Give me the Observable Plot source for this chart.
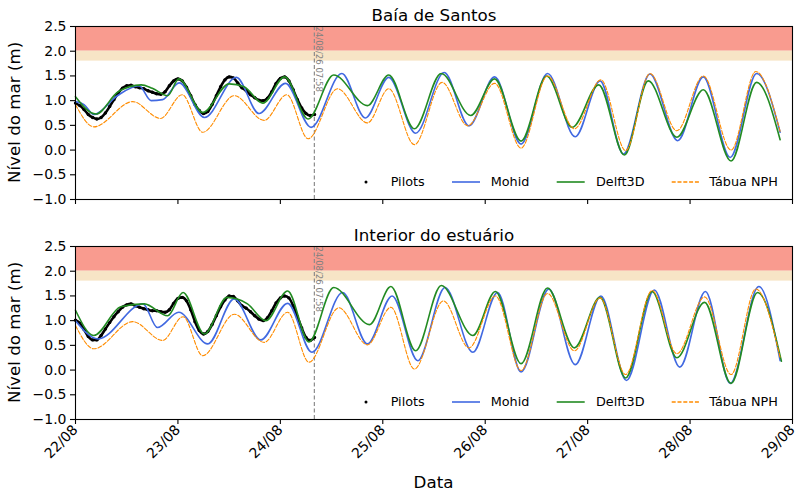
<!DOCTYPE html>
<html><head><meta charset="utf-8">
<script src="https://cdn.jsdelivr.net/npm/d3@7"></script>
<script src="https://cdn.jsdelivr.net/npm/@observablehq/plot@0.6"></script>
<style>
body{margin:0;background:#fff;font-family:"DejaVu Sans",sans-serif;}
#wrap{position:relative;width:800px;height:498px;overflow:hidden;background:#fff}
#wrap > svg{position:absolute;left:0}
</style></head><body><div id="wrap"></div>
<script>
// ---- data (hours since 22/08/2026 00:00, sea level in m) ----
const dayLabels = ["22/08","23/08","24/08","25/08","26/08","27/08","28/08","29/08"];
const dayNumbers = [22,23,24,25,26,27,28,29];
const yTicks = [-1.0,-0.5,0.0,0.5,1.0,1.5,2.0,2.5];
const redBand = [2.0, 2.5];
const beigeBand = [1.8, 2.0];
const cutoffHour = 55.967;
const cutoffLabel = "24/08/26 07:58";
const seriesNames = ["Pilots","Mohid","Delft3D","Tábua NPH"];

// Baía de Santos
const santosPilots = [0.95,0.90,0.82,0.72,0.66,0.63,0.66,0.75,0.88,1.02,1.15,1.25,1.30,1.31,1.28,1.26,1.24,1.20,1.17,1.14,1.13,1.18,1.30,1.40,1.44,1.40,1.27,1.10,0.92,0.80,0.74,0.78,0.92,1.10,1.28,1.42,1.48,1.46,1.36,1.26,1.20,1.12,1.06,1.01,1.00,1.05,1.18,1.35,1.45,1.48,1.40,1.22,1.02,0.85,0.74,0.70,0.72];
const santosMohid = [[0,0.98],[2,0.92],[4.3,0.72],[9.8,1.10],[14.9,1.30],[17.7,1.00],[20.4,1.02],[24.3,1.36],[30.2,0.66],[37.7,1.47],[43.0,0.74],[49.2,1.35],[55.2,0.46],[62.4,1.55],[67.9,0.65],[73.4,1.47],[79.7,0.34],[86.4,1.57],[92.2,0.49],[98.2,1.48],[104.4,0.12],[110.6,1.55],[117.1,0.27],[122.9,1.40],[128.4,-0.08],[134.6,1.54],[141.1,0.19],[147.1,1.48],[153.4,-0.15],[159.6,1.55],[165.1,0.36]];
const santosDelft = [[0,1.08],[4.8,0.73],[10,1.18],[15.4,1.32],[18,1.25],[21.6,1.10],[24.2,1.44],[29.8,0.76],[36.0,1.34],[39.5,1.28],[43.9,0.95],[49.0,1.48],[54.5,0.63],[60.5,1.52],[68.4,0.90],[73.4,1.52],[79.4,0.43],[85.7,1.55],[92.6,0.70],[98.2,1.44],[104.4,0.18],[110.4,1.50],[116.4,0.46],[122.6,1.32],[128.6,-0.10],[134.2,1.40],[140.9,0.26],[147.1,1.22],[153.6,-0.22],[159.6,1.37],[165.1,0.21]];
const santosNPH = [[0,0.92],[4.3,0.47],[13.4,0.98],[19.9,0.64],[25.0,1.12],[29.8,0.36],[37.2,1.10],[44.2,0.60],[49.5,1.12],[54.5,0.23],[61.4,1.24],[68.4,0.55],[73.4,1.24],[79.4,0.11],[85.9,1.37],[91.9,0.49],[98.2,1.35],[104.4,0.04],[110.6,1.50],[116.9,0.43],[123.1,1.42],[128.9,-0.01],[134.6,1.55],[140.9,0.39],[147.1,1.50],[153.6,0.00],[159.4,1.59],[165.1,0.38]];

// Interior do estuário
const estuarioPilots = [1.01,0.95,0.82,0.68,0.61,0.61,0.70,0.83,0.96,1.08,1.18,1.27,1.32,1.34,1.30,1.27,1.24,1.22,1.20,1.20,1.18,1.17,1.22,1.35,1.45,1.47,1.40,1.22,0.98,0.80,0.73,0.78,0.92,1.10,1.28,1.42,1.50,1.49,1.40,1.30,1.25,1.18,1.10,1.03,1.00,1.06,1.20,1.36,1.46,1.50,1.46,1.30,1.08,0.85,0.66,0.60,0.66];
const estuarioMohid = [[0,1.00],[5.3,0.63],[15.8,1.34],[19.2,0.86],[24.2,1.17],[31.0,0.53],[37.2,1.44],[43.4,0.61],[49.7,1.35],[55.4,0.36],[62.6,1.57],[68.4,0.53],[74.2,1.50],[80.2,0.19],[86.6,1.67],[93.1,0.36],[98.9,1.57],[104.4,-0.04],[110.9,1.64],[117.1,0.11],[123.1,1.50],[129.1,-0.21],[135.6,1.62],[141.6,0.06],[147.6,1.59],[153.4,-0.27],[160.1,1.69],[165.1,0.19]];
const estuarioDelft = [[0,1.21],[4.3,0.70],[10.6,1.28],[16.1,1.34],[21.6,1.10],[25.2,1.57],[30.2,0.73],[35.5,1.47],[40.3,1.34],[44.6,1.00],[49.7,1.60],[54.7,0.57],[60.5,1.67],[68.9,0.92],[73.9,1.69],[79.7,0.39],[85.7,1.71],[93.1,0.70],[98.4,1.59],[104.4,0.13],[110.6,1.66],[116.9,0.45],[122.9,1.47],[128.9,-0.16],[135.1,1.59],[140.9,0.25],[147.4,1.37],[153.6,-0.27],[159.8,1.57],[165.4,0.18]];
const estuarioNPH = [[0,0.90],[4.3,0.43],[13.4,0.98],[20.4,0.60],[25.2,1.08],[29.8,0.29],[37.2,1.13],[44.2,0.56],[49.7,1.17],[54.7,0.16],[61.7,1.26],[68.4,0.51],[73.9,1.27],[79.4,0.02],[86.2,1.40],[92.2,0.45],[98.4,1.50],[104.4,-0.01],[110.6,1.55],[116.9,0.39],[122.9,1.46],[128.9,-0.09],[135.1,1.61],[140.9,0.33],[147.4,1.48],[153.6,-0.09],[159.4,1.64],[165.1,0.25]];

// ---- helpers ----
const t0 = Date.UTC(2026, 7, 22);
const t = h => new Date(t0 + h * 3600e3);
const tickDates = dayNumbers.map(d => new Date(Date.UTC(2026, 7, d)));
const labelByTime = new Map(tickDates.map((d, i) => [+d, dayLabels[i]]));
const colors = {pilots: "#000000", mohid: "#4169E1", delft: "#228B22", nph: "#FF8C00"};
const fmtY = d3.format(".1f");

function panel({title, pilots, mohid, delft, nph, top, height, marginTop, marginBottom, showLabels}) {
  const svg = Plot.plot({
    width: 800, height, marginTop, marginBottom, marginLeft: 75, marginRight: 8,
    style: {fontFamily: "DejaVu Sans", fontSize: "14px", background: "transparent", overflow: "visible", color: "black"},
    x: {type: "utc", domain: [t(0), t(168)]},
    y: {domain: [-1, 2.5]},
    marks: [
      Plot.rect([redBand], {y1: d => d[0], y2: d => d[1], fill: "#F99B8F"}),
      Plot.rect([beigeBand], {y1: d => d[0], y2: d => d[1], fill: "#F7E4C6"}),
      Plot.ruleX([cutoffHour], {x: d => t(d), stroke: "#8c8c8c", strokeDasharray: "4,2.5", strokeWidth: 1.2}),
      Plot.text([cutoffLabel], {x: () => t(cutoffHour), frameAnchor: "top", text: d => d, rotate: 90, textAnchor: "start", lineAnchor: "bottom", dx: 2, fontSize: 8.5, fill: "#808080"}),
      Plot.line(pilots, {x: (d, i) => t(i), y: d => d, stroke: colors.pilots, strokeWidth: 2.6, curve: "monotone-x"}),
      Plot.dot(pilots, {x: (d, i) => t(i), y: d => d, r: 1.7, fill: colors.pilots}),
      Plot.line(mohid, {x: d => t(d[0]), y: d => d[1], stroke: colors.mohid, strokeWidth: 1.6, curve: "monotone-x"}),
      Plot.line(delft, {x: d => t(d[0]), y: d => d[1], stroke: colors.delft, strokeWidth: 1.6, curve: "monotone-x"}),
      Plot.line(nph, {x: d => t(d[0]), y: d => d[1], stroke: colors.nph, strokeWidth: 1.1, strokeDasharray: "4,1.8", curve: "monotone-x"}),
      Plot.frame({stroke: "black", strokeWidth: 1.1}),
      Plot.axisY(yTicks, {tickSize: 5, tickPadding: 4, tickFormat: fmtY, fontSize: 14, label: null, strokeWidth: 1.1}),
      Plot.axisX(tickDates, {tickSize: 5, tickPadding: 3, tickRotate: -45, fontSize: 14, label: null, strokeWidth: 1.1,
        tickFormat: d => showLabels ? labelByTime.get(+d) : ""}),
      Plot.text([title], {frameAnchor: "top", text: d => d, dy: -6, lineAnchor: "bottom", fontSize: 16.7})
    ]
  });
  svg.style.top = top + "px";
  return svg;
}

const wrap = document.getElementById("wrap");
wrap.appendChild(panel({title: "Baía de Santos", pilots: santosPilots, mohid: santosMohid, delft: santosDelft, nph: santosNPH,
  top: 0, height: 215, marginTop: 26, marginBottom: 16, showLabels: false}));
wrap.appendChild(panel({title: "Interior do estuário", pilots: estuarioPilots, mohid: estuarioMohid, delft: estuarioDelft, nph: estuarioNPH,
  top: 215, height: 283, marginTop: 31, marginBottom: 79, showLabels: true}));

// ---- overlay: axis titles and legends ----
const ov = d3.select(wrap).append("svg").attr("width", 800).attr("height", 498)
  .style("top", "0px").style("pointer-events", "none")
  .style("font-family", "DejaVu Sans");
[112.4, 332.4].forEach(cy => {
  ov.append("text").attr("transform", `translate(20,${cy}) rotate(-90)`)
    .attr("text-anchor", "middle").attr("font-size", 16.7).text("Nível do mar (m)");
});
ov.append("text").attr("x", 433.5).attr("y", 488).attr("text-anchor", "middle").attr("font-size", 16.7).text("Data");

const legendX = [{sw: 366, tx: 390.7}, {sw: 452, tx: 490.7}, {sw: 556.7, tx: 596}, {sw: 671.7, tx: 709.3}];
const legendStyle = [
  {type: "dot", color: colors.pilots},
  {type: "line", color: colors.mohid, w: 1.6, dash: null},
  {type: "line", color: colors.delft, w: 1.6, dash: null},
  {type: "line", color: colors.nph, w: 1.3, dash: "4,1.8"}
];
[182, 402].forEach(ly => {
  seriesNames.forEach((name, i) => {
    const p = legendX[i], s = legendStyle[i];
    if (s.type === "dot") {
      ov.append("circle").attr("cx", p.sw).attr("cy", ly).attr("r", 1.5).attr("fill", s.color);
    } else {
      const l = ov.append("line").attr("x1", p.sw).attr("x2", p.sw + 28).attr("y1", ly).attr("y2", ly)
        .attr("stroke", s.color).attr("stroke-width", s.w);
      if (s.dash) l.attr("stroke-dasharray", s.dash);
    }
    ov.append("text").attr("x", p.tx).attr("y", ly).attr("dy", "0.35em").attr("font-size", 12.8).text(name);
  });
});
</script>
</body></html>
